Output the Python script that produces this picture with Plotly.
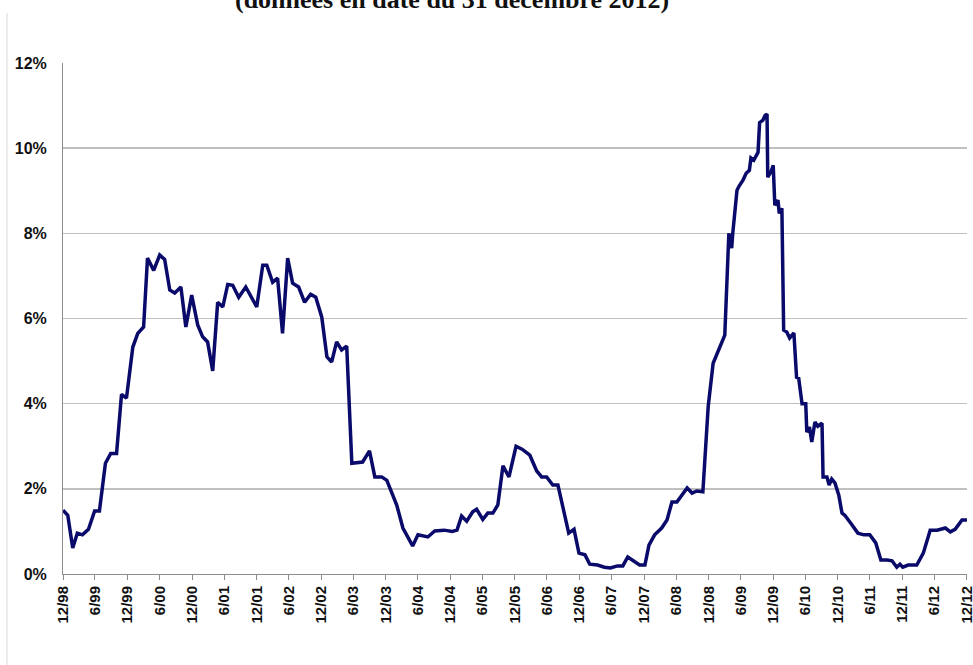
import plotly.graph_objects as go

dates = [
    "1998-12-31", "1999-01-27", "1999-02-24", "1999-03-22", "1999-04-20", "1999-05-24",
    "1999-06-28", "1999-07-25", "1999-08-28", "1999-09-27", "1999-10-30", "1999-11-27",
    "1999-12-25", "2000-01-30", "2000-02-27", "2000-03-31", "2000-04-22", "2000-05-27",
    "2000-06-30", "2000-07-28", "2000-08-26", "2000-09-23", "2000-10-28", "2000-11-25",
    "2000-12-28", "2001-01-31", "2001-02-28", "2001-03-28", "2001-04-26", "2001-05-24",
    "2001-06-22", "2001-07-20", "2001-08-17", "2001-09-20", "2001-10-30", "2001-12-03",
    "2001-12-31", "2002-02-03", "2002-02-26", "2002-03-31", "2002-04-28", "2002-05-26",
    "2002-06-24", "2002-07-22", "2002-08-25", "2002-09-28", "2002-11-01", "2002-11-30",
    "2003-01-03", "2003-02-01", "2003-02-28", "2003-03-28", "2003-04-25", "2003-05-24",
    "2003-06-22", "2003-08-22", "2003-09-30", "2003-10-30", "2003-12-08", "2004-01-06",
    "2004-03-02", "2004-04-06", "2004-04-27", "2004-05-31", "2004-06-30", "2004-08-25",
    "2004-10-03", "2004-11-25", "2005-01-10", "2005-02-06", "2005-03-04", "2005-04-02",
    "2005-05-06", "2005-05-28", "2005-07-02", "2005-07-30", "2005-08-28", "2005-09-25",
    "2005-10-24", "2005-11-27", "2006-01-06", "2006-02-09", "2006-03-25", "2006-05-03",
    "2006-05-31", "2006-06-28", "2006-08-02", "2006-08-31", "2006-10-31", "2006-11-30",
    "2006-12-28", "2007-01-31", "2007-02-27", "2007-04-12", "2007-05-21", "2007-06-24",
    "2007-08-03", "2007-09-02", "2007-09-30", "2007-11-09", "2007-12-06", "2008-01-05",
    "2008-01-28", "2008-02-29", "2008-04-09", "2008-05-09", "2008-06-06", "2008-07-04",
    "2008-08-02", "2008-08-31", "2008-09-28", "2008-10-25", "2008-11-28", "2008-12-28",
    "2009-01-25", "2009-02-26", "2009-04-01", "2009-04-24", "2009-05-10", "2009-05-16",
    "2009-06-09", "2009-06-21", "2009-07-13", "2009-07-31", "2009-08-18", "2009-08-27",
    "2009-09-12", "2009-10-06", "2009-10-15", "2009-11-03", "2009-11-15", "2009-11-26",
    "2009-11-30", "2009-12-18", "2009-12-31", "2010-01-09", "2010-01-27", "2010-02-03",
    "2010-02-18", "2010-02-28", "2010-03-18", "2010-04-03", "2010-04-27", "2010-05-12",
    "2010-05-24", "2010-06-12", "2010-07-03", "2010-07-09", "2010-07-24", "2010-08-06",
    "2010-08-24", "2010-09-09", "2010-10-03", "2010-10-09", "2010-10-31", "2010-11-12",
    "2010-11-27", "2010-12-15", "2011-01-06", "2011-01-24", "2011-02-09", "2011-03-19",
    "2011-04-24", "2011-05-28", "2011-06-30", "2011-08-03", "2011-09-01", "2011-10-06",
    "2011-11-03", "2011-11-30", "2011-12-18", "2012-01-03", "2012-02-02", "2012-03-22",
    "2012-04-28", "2012-06-06", "2012-07-15", "2012-08-31", "2012-09-28", "2012-10-25",
    "2012-12-03", "2012-12-31",
]

rates = [
    1.50, 1.38, 0.61, 0.96, 0.92, 1.05,
    1.48, 1.48, 2.60, 2.83, 2.83, 4.22,
    4.13, 5.33, 5.65, 5.80, 7.42, 7.13,
    7.49, 7.39, 6.67, 6.60, 6.74, 5.80,
    6.55, 5.85, 5.57, 5.45, 4.77, 6.38,
    6.27, 6.80, 6.78, 6.50, 6.74, 6.50,
    6.27, 7.25, 7.25, 6.85, 6.95, 5.65,
    7.42, 6.83, 6.74, 6.38, 6.57, 6.50,
    6.03, 5.10, 4.98, 5.45, 5.26, 5.35,
    2.60, 2.63, 2.89, 2.28, 2.28, 2.20,
    1.62, 1.08, 0.92, 0.66, 0.92, 0.87,
    1.01, 1.03, 1.00, 1.03, 1.36, 1.24,
    1.46, 1.52, 1.28, 1.43, 1.43, 1.62,
    2.54, 2.28, 3.00, 2.93, 2.79, 2.42,
    2.28, 2.28, 2.09, 2.09, 0.96, 1.05,
    0.49, 0.45, 0.23, 0.21, 0.16, 0.14,
    0.19, 0.19, 0.40, 0.28, 0.21, 0.21,
    0.68, 0.92, 1.08, 1.27, 1.69, 1.69,
    1.85, 2.02, 1.90, 1.95, 1.93, 3.93,
    4.95, 5.26, 5.61, 8.00, 7.65, 8.00,
    9.01, 9.11, 9.25, 9.41, 9.48, 9.77,
    9.72, 9.90, 10.60, 10.66, 10.77, 10.80,
    9.32, 9.44, 9.60, 8.66, 8.78, 8.47,
    8.59, 5.73, 5.68, 5.54, 5.66, 4.62,
    4.60, 4.00, 4.00, 3.33, 3.45, 3.10,
    3.57, 3.47, 3.54, 2.28, 2.28, 2.09,
    2.23, 2.14, 1.85, 1.43, 1.38, 1.17,
    0.96, 0.92, 0.92, 0.73, 0.33, 0.33,
    0.31, 0.16, 0.23, 0.16, 0.21, 0.21,
    0.49, 1.03, 1.03, 1.08, 0.99, 1.05,
    1.27, 1.27,
]

tick_dates = [
    "1998-12-31", "1999-06-30", "1999-12-31", "2000-06-30", "2000-12-31", "2001-06-30",
    "2001-12-31", "2002-06-30", "2002-12-31", "2003-06-30", "2003-12-31", "2004-06-30",
    "2004-12-31", "2005-06-30", "2005-12-31", "2006-06-30", "2006-12-31", "2007-06-30",
    "2007-12-31", "2008-06-30", "2008-12-31", "2009-06-30", "2009-12-31", "2010-06-30",
    "2010-12-31", "2011-06-30", "2011-12-31", "2012-06-30", "2012-12-31",
]
tick_labels = [
    "12/98", "6/99", "12/99", "6/00", "12/00", "6/01", "12/01", "6/02", "12/02", "6/03",
    "12/03", "6/04", "12/04", "6/05", "12/05", "6/06", "12/06", "6/07", "12/07", "6/08",
    "12/08", "6/09", "12/09", "6/10", "12/10", "6/11", "12/11", "6/12", "12/12",
]
y_ticks = [0, 2, 4, 6, 8, 10, 12]
y_labels = ["0%", "2%", "4%", "6%", "8%", "10%", "12%"]

title_text = "(données en date du 31 décembre 2012)"

fig = go.Figure()
fig.add_trace(go.Scatter(
    x=dates, y=rates, mode="lines",
    line=dict(color="#0a0a6b", width=3.5),
    hoverinfo="skip", showlegend=False,
))

fig.update_layout(
    width=973, height=665,
    margin=dict(l=63, r=6, t=63, b=91, autoexpand=False),
    paper_bgcolor="white", plot_bgcolor="white",
    font=dict(family="Liberation Sans, Arial, sans-serif", color="#111111"),
    showlegend=False,
)

fig.update_xaxes(
    type="date",
    range=["1998-12-31", "2012-12-31 06:00"],
    tickmode="array", tickvals=tick_dates, ticktext=tick_labels,
    tickangle=-90,
    tickfont=dict(size=15, family="Liberation Sans, Arial, sans-serif", color="#111111", weight="bold"),
    ticklabeloverflow="allow",
    ticks="outside", ticklen=5, tickcolor="#8c8c8c", tickwidth=1,
    showline=True, linecolor="#8c8c8c", linewidth=1,
    showgrid=False, zeroline=False, automargin=False,
)
fig.update_yaxes(
    range=[0, 12],
    tickmode="array", tickvals=y_ticks, ticktext=y_labels,
    tickfont=dict(size=16, family="Liberation Sans, Arial, sans-serif", color="#111111", weight="bold"),
    ticklabelstandoff=12,
    showline=True, linecolor="#8c8c8c", linewidth=1,
    showgrid=True, gridcolor="#c0c0c0", gridwidth=1.5,
    zeroline=False, automargin=False,
)

fig.add_annotation(
    text="<b>" + title_text + "</b>",
    xref="paper", yref="paper",
    x=0.43, y=1.0, xanchor="center", yanchor="bottom",
    yshift=47,
    showarrow=False,
    font=dict(family="Liberation Serif, Times New Roman, serif", size=26, color="#111111"),
)

fig.add_shape(
    type="line", xref="paper", yref="paper",
    x0=-0.062, x1=-0.062, y0=-0.178, y1=1.098,
    line=dict(color="#d9d9d9", width=1),
)

fig.write_html(
    "out.html",
    config={"displayModeBar": False, "staticPlot": True},
    post_script="document.body.style.margin='0';document.body.style.overflow='hidden';",
)
